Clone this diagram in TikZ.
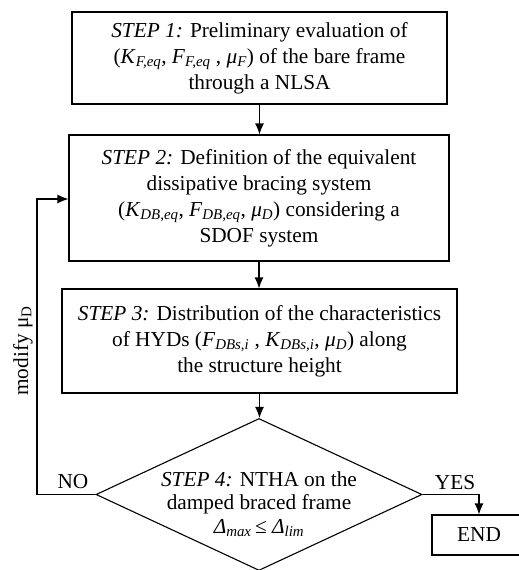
\documentclass[tikz,border=0pt]{standalone}
\usepackage{fontspec}
\setmainfont{Liberation Serif}
\usetikzlibrary{shapes.geometric,arrows.meta}
\newcommand{\sbi}[1]{\textsubscript{\itshape #1}}
\begin{document}
\begin{tikzpicture}[x=1pt,y=-1pt,
  every node/.style={font=\fontsize{21.3}{26}\selectfont},
  stepbox/.style={draw,line width=1.1pt,rectangle,align=center,inner sep=0pt},
  conn/.style={line width=1.1pt,-{Latex[length=11pt,width=9pt]}}]
\useasboundingbox (0,0) rectangle (519,570);
\node[stepbox,minimum width=375pt,minimum height=92pt] (b1) at (259.5,58)
  {\textit{STEP 1:} Preliminary evaluation of\\
   (\textit{K}\sbi{F,eq}, \textit{F}\sbi{F,eq} , \textit{μ}\sbi{F}) of the bare frame\\
   through a NLSA};
\node[stepbox,minimum width=380pt,minimum height=126pt] (b2) at (259,198)
  {\textit{STEP 2:} Definition of the equivalent\\
   dissipative bracing system\\
   (\textit{K}\sbi{DB,eq}, \textit{F}\sbi{DB,eq}, \textit{μ}\sbi{D}) considering a\\
   SDOF system};
\node[stepbox,minimum width=395pt,minimum height=104pt] (b3) at (259.5,341)
  {\textit{STEP 3:} Distribution of the characteristics\\
   of HYDs (\textit{F}\sbi{DBs,i} , \textit{K}\sbi{DBs,i}, \textit{μ}\sbi{D}) along\\
   the structure height};
\node[draw,line width=1.1pt,diamond,minimum width=326pt,minimum height=152pt,inner sep=0pt] (d4) at (259,494.5) {};
\node[align=center,font=\fontsize{21.3}{23.5}\selectfont] (t4) at (259,504)
  {\textit{STEP 4:} NTHA on the\\
   damped braced frame\\
   \textit{Δ}\sbi{max}\,≤ \textit{Δ}\sbi{lim}};
\node[draw,line width=1.1pt,rectangle,minimum width=94pt,minimum height=40pt,inner sep=0pt] (e) at (479,535) {END};
\coordinate (lb) at (37,494.5);
\coordinate (lt) at (37,199);
\coordinate (ry) at (479,494.5);
\draw[conn] (b1.south) -- (b1.south |- b2.north);
\draw[conn] (b2.south) -- (b2.south |- b3.north);
\draw[conn] (b3.south) -- (b3.south |- d4.north);
\draw[conn] (d4.west) -- (lb) -- (lt) -- (lt -| b2.west);
\draw[conn] (d4.east) -- (ry) -- (e.north);
\node (no) at (73,482) {NO};
\node (yes) at (455,483) {YES};
\node[rotate=90] (mod) at (23,351) {modify μ\textsubscript{D}};
\end{tikzpicture}
\end{document}
